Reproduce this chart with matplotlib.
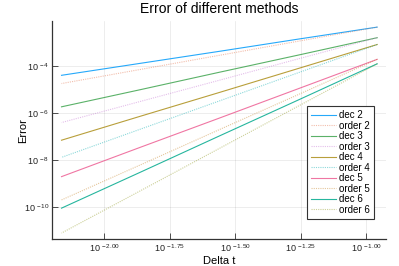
import matplotlib
matplotlib.use('Agg')
import matplotlib.pyplot as plt
import numpy as np

plt.rcParams['font.family'] = ['Liberation Sans', 'DejaVu Sans']
plt.rcParams['mathtext.fontset'] = 'custom'
plt.rcParams['mathtext.rm'] = 'Liberation Sans'
plt.rcParams['mathtext.it'] = 'Liberation Sans:italic'

# ----- Data -----
dt = [0.11, 0.055, 0.0275, 0.01375, 0.006875]

# log10 of the error at each dt
dec2 = [-2.33, -2.84, -3.36, -3.87, -4.38]
order2 = [-2.33, -2.93, -3.53, -4.13, -4.73]
dec3 = [-2.78, -3.52, -4.25, -4.99, -5.72]
order3 = [-2.78, -3.68, -4.59, -5.49, -6.39]
dec4 = [-3.07, -4.09, -5.11, -6.12, -7.14]
order4 = [-3.07, -4.27, -5.47, -6.67, -7.87]
dec5 = [-3.70, -4.95, -6.20, -7.44, -8.69]
order5 = [-3.70, -5.20, -6.69, -8.19, -9.68]
dec6 = [-3.89, -5.43, -6.96, -8.50, -10.03]
order6 = [-3.89, -5.69, -7.49, -9.29, -11.09]

series = [dec2, order2, dec3, order3, dec4, order4, dec5, order5, dec6, order6]
labels = ['dec 2', 'order 2', 'dec 3', 'order 3', 'dec 4', 'order 4',
          'dec 5', 'order 5', 'dec 6', 'order 6']
colors = ['#009AFA', '#E36F47', '#3EA44E', '#C371D2', '#AC8E18',
          '#00AAAE', '#ED5E93', '#C68225', '#00A98D', '#8E971D']

xticks = [-2.00, -1.75, -1.50, -1.25, -1.00]
yticks = [-10, -8, -6, -4]

# ----- Figure -----
fig = plt.figure(figsize=(3.99, 2.66), dpi=100)
ax = fig.add_axes([52/399, 1 - 239.3/266, (386-52)/399, (239.3-21)/266])

for k, (s, lab, c) in enumerate(zip(series, labels, colors)):
    err = 10.0 ** np.array(s)
    if k % 2 == 0:
        ax.plot(dt, err, color=c, lw=0.8, ls='-', alpha=0.85, label=lab)
    else:
        ax.plot(dt, err, color=c, lw=0.8, ls=(0, (1, 1)), alpha=0.45, label=lab)

ax.set_xscale('log')
ax.set_yscale('log')
ax.set_xlim(10**-2.199, 10**-0.925)
ax.set_ylim(10**-11.355, 10**-2.07)

ax.set_xticks([10**v for v in xticks])
ax.set_xticklabels([r'$10^{\,%.2f}$' % v for v in xticks])
ax.set_yticks([10.0**v for v in yticks])
ax.set_yticklabels([r'$10^{\,%d}$' % v for v in yticks])
ax.minorticks_off()
ax.tick_params(direction='in', length=4, width=0.6, labelsize=6.5, color='#333333',
               labelcolor='#222222')
ax.tick_params(axis='x', pad=2)
ax.tick_params(axis='y', pad=2)

ax.grid(True, color='black', alpha=0.1, lw=0.5)
ax.spines['top'].set_visible(False)
ax.spines['right'].set_visible(False)
for sp in ['left', 'bottom']:
    ax.spines[sp].set_linewidth(0.9)
    ax.spines[sp].set_color('#333333')

ax.set_title('Error of different methods', fontsize=10, pad=6)
ax.set_xlabel('Delta t', fontsize=8)
ax.set_ylabel('Error', fontsize=8)
ax.xaxis.set_label_coords(0.5, -0.1)
ax.xaxis.label.set_va('center')
ax.yaxis.set_label_coords(-0.085, 0.5)
ax.yaxis.label.set_va('center')

leg = ax.legend(loc='upper right', bbox_to_anchor=(0.978, 0.634), fontsize=7,
                handlelength=2.5, labelspacing=0.05, borderpad=0.45, handletextpad=0.3,
                fancybox=False, framealpha=1, edgecolor='#333333')
leg.get_frame().set_linewidth(0.8)

fig.savefig('out.png', dpi=100)
